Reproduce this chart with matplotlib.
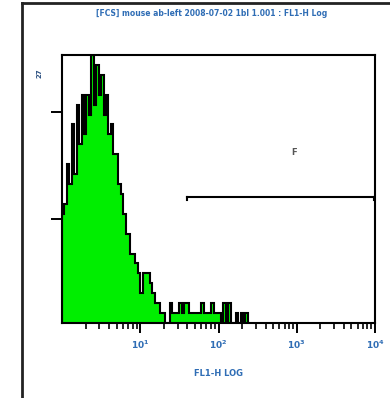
import numpy as np
import matplotlib
matplotlib.use("Agg")
import matplotlib.pyplot as plt
from matplotlib.lines import Line2D

# FL1-H channel counts, 32 channels per decade starting at 10^0
counts = [
    11, 12, 16, 14, 20, 15, 22, 18, 23, 19,
    23, 21, 27, 22, 26, 23, 25, 21, 23, 19,
    20, 17, 17, 14, 13, 11, 9, 9, 7, 7,
    6, 5, 3, 5, 5, 5, 4, 3, 2, 2,
    1, 1, 0, 0, 2, 1, 1, 1, 2, 1,
    2, 2, 1, 1, 1, 1, 1, 2, 1, 1,
    1, 2, 1, 1, 1, 0, 2, 0, 2, 0,
    0, 1, 0, 1, 0, 1, 0,
]
channels_per_decade = 32
y_max = 27
y_ticks = [10.5, 21.3]
x_tick_decades = [1, 2, 3, 4]

gate_name = "F"
gate_range = (39.6, 9800)
gate_level = 12.7

title_text = "[FCS] mouse ab-left 2008-07-02 1bl 1.001 : FL1-H Log"
x_label = "FL1-H LOG"

blue = "#2f6db5"

fig = plt.figure(figsize=(3.9, 3.98), dpi=100)
ax = fig.add_axes([62 / 390, 1 - 323 / 398, 313 / 390, 268 / 398])

edges = 10 ** (np.arange(len(counts) + 1) / channels_per_decade)
ax.stairs(counts, edges, fill=True, color="#00ee00", zorder=2)
ax.stairs(counts, edges, color="black", linewidth=1.5, zorder=3)

ax.set_xscale("log")
ax.set_xlim(1, 1e4)
ax.set_ylim(0, y_max)

# gate marker with small end caps
g0, g1 = gate_range
ax.plot([g0, g1], [gate_level, gate_level], color="black", lw=1.5, zorder=4)
for gx in gate_range:
    ax.plot([gx, gx], [gate_level, gate_level - 0.35], color="black", lw=1.5, zorder=4)
ax.text(923, 17.2, gate_name, fontsize=6, fontweight="bold", color="#555555",
        ha="center", va="center")

for s in ax.spines.values():
    s.set_linewidth(1.5)

ax.set_xticks([10.0 ** d for d in x_tick_decades])
ax.set_xticklabels([f"$\\mathbf{{10^{d}}}$" for d in x_tick_decades], fontsize=6.5,
                   color=blue)
ax.tick_params(axis="x", which="major", direction="out", length=7, width=1.4, pad=4)
ax.tick_params(axis="x", which="minor", direction="out", length=4, width=1.2)
ax.set_yticks(y_ticks)
ax.set_yticklabels([])
ax.tick_params(axis="y", which="major", direction="out", length=8, width=1.4)
ax.minorticks_on()
ax.yaxis.set_minor_locator(matplotlib.ticker.NullLocator())

ax.set_xlabel(x_label, fontsize=6, color=blue, fontweight="bold", labelpad=13)
fig.text(40 / 390, 1 - 73 / 398, str(y_max), rotation=90, fontsize=5,
         fontweight="bold", color="#2a4f80", ha="center", va="center")
fig.text(212 / 390, 1 - 13 / 398, title_text, fontsize=5.5, fontweight="bold",
         color=blue, ha="center", va="center")

# outer page frame
fig.add_artist(Line2D([22 / 390, 22 / 390], [0, 1 - 3 / 398], color="#222222", lw=2))
fig.add_artist(Line2D([22 / 390, 1], [1 - 3 / 398, 1 - 3 / 398], color="#222222", lw=2))

fig.savefig("out.png", dpi=100)
